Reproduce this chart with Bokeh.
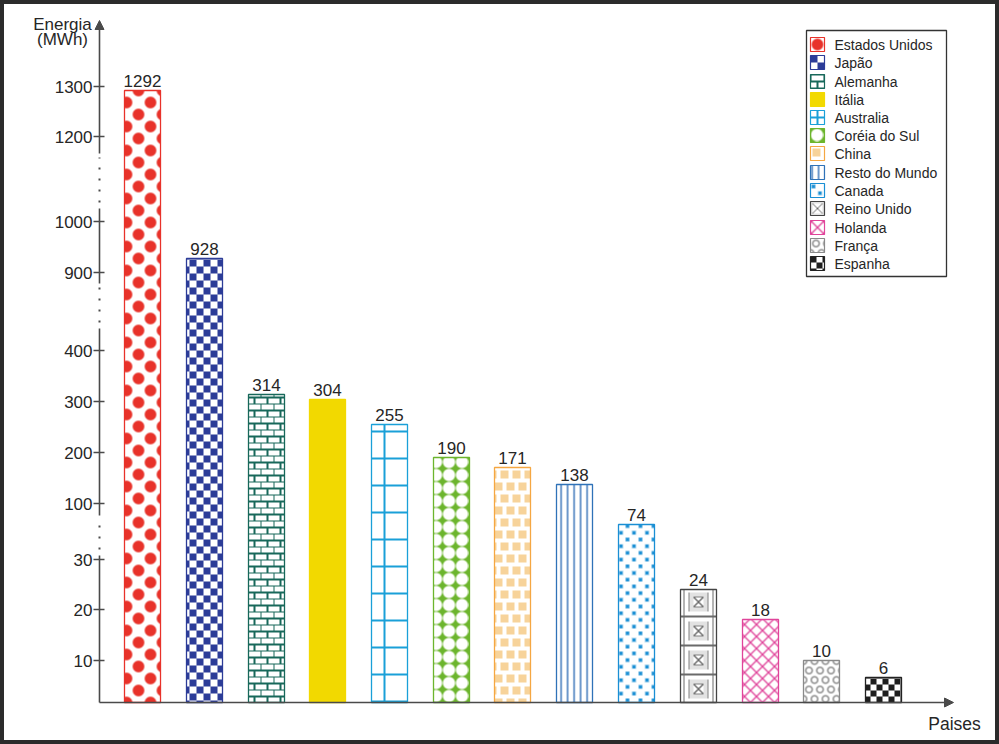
import numpy as np
from bokeh.plotting import figure
from bokeh.models import Range1d, Arrow, NormalHead
from bokeh.embed import file_html
from bokeh.resources import INLINE
from bokeh.core.properties import value

# ---------------- data ----------------
paises = ["Estados Unidos", "Japão", "Alemanha", "Itália", "Australia",
          "Coréia do Sul", "China", "Resto do Mundo", "Canada", "Reino Unido",
          "Holanda", "França", "Espanha"]
energia = [1292, 928, 314, 304, 255, 190, 171, 138, 74, 24, 18, 10, 6]
tick_values = [10, 20, 30, 100, 200, 300, 400, 900, 1000, 1200, 1300]
tick_labels = ["10", "20", "30", "100", "200", "300", "400", "900", "1000", "1200", "1300"]

# broken (piecewise) value axis: value -> pixels above the baseline
scale_values = [0, 10, 20, 30, 100, 200, 300, 400, 900, 1000, 1200, 1300]
scale_pixels = [0, 42, 93, 143, 199, 250, 301, 352, 430, 481, 566, 616]

# ---------------- style / layout ----------------
W, H = 999, 744
BASE_Y = 702          # baseline (px from top)
AXIS_X = 99           # vertical axis position
X0, STEP, BAR_W = 142, 61.75, 36
AX = "#4a4a4a"
TXT = "#262626"
FONT = "Liberation Sans"
LEG_L, LEG_T, LEG_R, LEG_B = 806, 30, 946, 276
LEG_SW_X, LEG_SW_T, LEG_PITCH, LEG_SW = 810, 37, 18.25, 14

pattern_names = ["us", "jp", "de", "it", "au", "kr", "cn", "rm", "ca", "uk", "nl", "fr", "es"]
line_colors = ["#e8322a", "#2c3c98", "#17685a", "#f2d900", "#1aa0d8", "#6cb52d",
               "#f5a742", "#2f72b8", "#1a8fd4", "#444444", "#e0449a", "#8a8a8a", "#222222"]
legend_offsets = {"us": (-1, -1), "au": (377, 424), "uk": (691, 594.5), "nl": (-1, -1)}


def sy(y):
    """screen y (downwards) -> data y (upwards)"""
    return H - np.asarray(y, dtype=float)


def to_px(v):
    return np.interp(np.asarray(v, dtype=float), scale_values, scale_pixels)


def rgb(h):
    return np.array([int(h[i:i + 2], 16) for i in (1, 3, 5)], dtype=float)


def wrap(a, per):
    m = np.mod(a, per)
    return np.minimum(m, per - m)


def soft(d, r):
    return np.clip(r + 0.5 - d, 0.0, 1.0)


def paint(name, X, Y):
    out = np.ones(X.shape + (3,)) * 255.0

    def lay(color, cov):
        nonlocal out
        c = np.asarray(cov, dtype=float)[..., None]
        out = out * (1 - c) + rgb(color) * c

    if name == "us":
        d = np.minimum(np.hypot(wrap(X - 6, 24), wrap(Y - 6, 24)),
                       np.hypot(wrap(X - 18, 24), wrap(Y - 18, 24)))
        lay("#e8322a", soft(d, 5.8))
    elif name == "jp":
        lay("#2c3c98", (np.floor(X / 7) + np.floor(Y / 7)) % 2 == 0)
    elif name == "de":
        row = np.floor(Y / 6.5)
        m = (np.mod(Y, 6.5) < 1.5) | (np.mod(X - (row % 2) * 6.5, 13) < 1.5)
        lay("#17685a", m)
    elif name == "it":
        lay("#f2d900", np.ones_like(X))
    elif name == "au":
        m = (np.mod(X - 383, 27) < 2.2) | (np.mod(Y - 430, 27) < 2.2)
        lay("#1aa0d8", m)
    elif name == "kr":
        lay("#6cb52d", np.ones_like(X))
        d = np.hypot(wrap(X - 6.5, 13), wrap(Y - 6.5, 13))
        lay("#ffffff", soft(d, 6.1))
    elif name == "cn":
        row = np.floor(Y / 12)
        ix = np.mod(X - (row % 2) * 6, 12)
        iy = np.mod(Y, 12)
        lay("#f7d39a", (ix >= 2) & (ix < 10) & (iy >= 2) & (iy < 10))
    elif name == "rm":
        lay("#2f6db5", soft(wrap(X - 560.6, 6.5), 0.7))
    elif name == "ca":
        ca = np.maximum(wrap(X - 3, 13), wrap(Y - 3, 13.4))
        cb = np.maximum(wrap(X - 9.5, 13), wrap(Y - 9.7, 13.4))
        lay("#1a8fd4", soft(np.minimum(ca, cb), 1.8))
    elif name == "uk":
        u = np.abs(np.mod(X - 683.5, 29) - 14.5)
        v = np.abs(np.mod(Y - 587, 29) - 14.5)
        cheb = np.maximum(u, v)
        lay("#e2e2e2", (cheb > 5) & (cheb < 9.5))
        lay("#6a6a6a", cheb >= 13.8)
        lay("#808080", np.abs(cheb - 9.5) < 0.5)
        lay("#808080", np.abs(cheb - 5) < 0.5)
        lay("#6a6a6a", (np.abs(u - v) < 0.7) & (cheb < 5))
    elif name == "nl":
        d = np.minimum(wrap(X + Y, 12), wrap(X - Y, 12)) / np.sqrt(2)
        lay("#e0449a", soft(d, 0.65))
    elif name == "fr":
        da = np.hypot(wrap(X - 5.5, 11), wrap(Y - 5, 19))
        db = np.hypot(wrap(X - 11, 11), wrap(Y - 14.5, 19))
        lay("#8c8c8c", soft(np.abs(np.minimum(da, db) - 3.2), 0.75))
    elif name == "es":
        lay("#1e1e1e", (np.floor(X / 6) + np.floor(Y / 6)) % 2 == 0)
    return out


def to_rgba(rgbf):
    h, w, _ = rgbf.shape
    arr = np.empty((h, w, 4), dtype=np.uint8)
    arr[..., :3] = np.clip(np.round(rgbf), 0, 255).astype(np.uint8)
    arr[..., 3] = 255
    arr = np.ascontiguousarray(arr[::-1])
    return arr.view(np.uint32).reshape(h, w)


# ---------------- figure ----------------
p = figure(width=W, height=H, x_range=Range1d(0, W), y_range=Range1d(0, H),
           output_backend="svg", toolbar_location=None, min_border=0,
           x_axis_location=None, y_axis_location=None, title=None)
p.xgrid.visible = False
p.ygrid.visible = False
p.background_fill_color = "white"
p.border_fill_color = "white"
p.outline_line_color = "#2b2b2b"
p.outline_line_width = 7

n = len(paises)
centers = np.round(X0 + STEP * np.arange(n)).astype(int)
heights = np.round(to_px(energia)).astype(int)
lefts = centers - BAR_W // 2

bar_imgs = []
for i in range(n):
    top = BASE_Y - heights[i]
    X, Y = np.meshgrid(lefts[i] + np.arange(BAR_W) + 0.5, top + np.arange(heights[i]) + 0.5)
    bar_imgs.append(to_rgba(paint(pattern_names[i], X, Y)))

p.image_rgba(image=bar_imgs, x=list(lefts), y=[H - BASE_Y] * n,
             dw=[BAR_W] * n, dh=list(heights))
p.vbar(x=centers, bottom=H - BASE_Y, top=H - BASE_Y + heights, width=BAR_W,
       fill_color=None, line_color=line_colors, line_width=1.3)

p.text(x=centers, y=H - BASE_Y + heights + 4, text=[str(v) for v in energia],
       text_align="center", text_baseline="bottom", text_font=value(FONT),
       text_font_size="17px", text_color=TXT)

# ---------------- broken y axis ----------------
tick_y = sy(BASE_Y - to_px(tick_values))
p.segment(x0=AXIS_X - 6, x1=AXIS_X + 5, y0=tick_y, y1=tick_y, line_color=AX, line_width=1.5)
p.text(x=[AXIS_X - 7] * len(tick_labels), y=tick_y, text=tick_labels,
       text_align="right", text_baseline="middle", text_font=value(FONT),
       text_font_size="17px", text_color=TXT)

solid = [(0, to_px(30) + 4), (to_px(100) - 12, to_px(400) + 22), (to_px(900) - 11, to_px(1000) + 13)]
gaps = [(solid[i][1], solid[i + 1][0]) for i in range(len(solid) - 1)] + [(to_px(1000) + 13, to_px(1200) - 17)]
p.segment(x0=[AXIS_X] * 3, x1=[AXIS_X] * 3, y0=[H - BASE_Y + a for a, b in solid],
          y1=[H - BASE_Y + b for a, b in solid], line_color=AX, line_width=1.6)
p.segment(x0=[AXIS_X] * 3, x1=[AXIS_X] * 3, y0=[H - BASE_Y + a + 6 for a, b in gaps],
          y1=[H - BASE_Y + b - 4 for a, b in gaps], line_color=AX, line_width=2,
          line_dash="2 9")
p.add_layout(Arrow(end=NormalHead(size=9, fill_color=AX, line_color=AX),
                   x_start=AXIS_X, y_start=H - BASE_Y + to_px(1200) - 17,
                   x_end=AXIS_X, y_end=H - 20, line_color=AX, line_width=1.6))
p.add_layout(Arrow(end=NormalHead(size=9, fill_color=AX, line_color=AX),
                   x_start=AXIS_X, y_start=H - BASE_Y, x_end=953, y_end=H - BASE_Y,
                   line_color=AX, line_width=1.6))

p.text(x=[62, 62], y=sy([24, 39]), text=["Energia", "(MWh)"], text_align="center",
       text_baseline="middle", text_font=value(FONT), text_font_size="17px",
       text_color=TXT)
p.text(x=[954], y=sy([723]), text=["Paises"], text_align="center",
       text_baseline="middle", text_font=value(FONT), text_font_size="17.5px",
       text_color=TXT)

# ---------------- legend (drawn with glyphs so the swatches show the patterns) ----------------
p.quad(left=[LEG_L], right=[LEG_R], top=sy([LEG_T]), bottom=sy([LEG_B]),
       fill_color="white", line_color="#333333", line_width=1.3)
sw_top = np.round(LEG_SW_T + LEG_PITCH * np.arange(n)).astype(int)
sw_imgs = []
for i in range(n):
    ox, oy = legend_offsets.get(pattern_names[i], (0, 0))
    X, Y = np.meshgrid(np.arange(LEG_SW) + 0.5 + ox, np.arange(LEG_SW) + 0.5 + oy)
    sw_imgs.append(to_rgba(paint(pattern_names[i], X, Y)))
p.image_rgba(image=sw_imgs, x=[LEG_SW_X] * n, y=list(sy(sw_top + LEG_SW)),
             dw=[LEG_SW] * n, dh=[LEG_SW] * n)
p.quad(left=[LEG_SW_X] * n, right=[LEG_SW_X + LEG_SW] * n, top=sy(sw_top),
       bottom=sy(sw_top + LEG_SW), fill_color=None, line_color=line_colors, line_width=1.2)
p.text(x=[LEG_SW_X + LEG_SW + 10] * n, y=sy(sw_top + LEG_SW / 2), text=paises,
       text_align="left", text_baseline="middle", text_font=value(FONT),
       text_font_size="14px", text_color=TXT)

open("out.html", "w").write(file_html(p, INLINE))
